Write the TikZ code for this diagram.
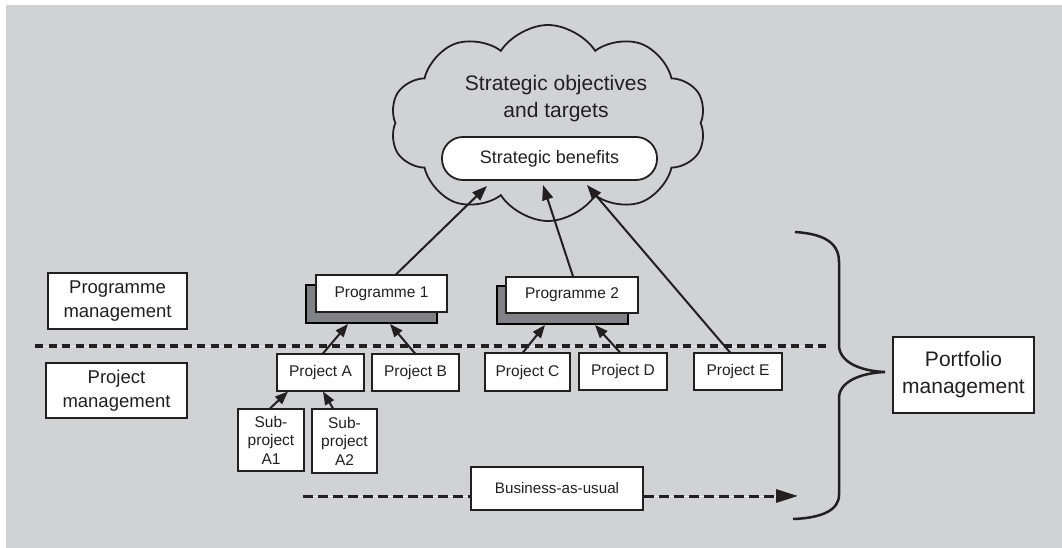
\documentclass[tikz,border=0pt]{standalone}
\usepackage{fontspec}
\setmainfont{Liberation Sans}
\usetikzlibrary{shapes.symbols,arrows.meta,calc}
\definecolor{bg}{HTML}{D1D2D4}
\definecolor{ink}{HTML}{231F20}
\definecolor{shade}{HTML}{808285}
\definecolor{gapline}{HTML}{ECECEC}
\begin{document}
\begin{tikzpicture}[x=1pt,y=-1pt,
  box/.style={draw=ink,line width=1.2pt,fill=white,text=ink,inner sep=0pt,align=center},
  shadowbox/.style={draw=black,line width=2pt,fill=shade,inner sep=0pt},
  arr/.style={draw=ink,line width=2pt,-{Triangle[length=15pt,width=11pt]}},
  sarr/.style={draw=ink,line width=2pt,-{Triangle[length=13pt,width=10pt]}},
  fA/.style={font=\fontsize{15.5}{18.5}\selectfont},
  fB/.style={font=\fontsize{18.5}{24}\selectfont},
  fC/.style={font=\fontsize{21}{27}\selectfont},
]
\useasboundingbox (0,0) rectangle (1062,548);
\fill[white] (0,0) rectangle (1062,548);
\fill[bg] (6,5) rectangle (1062,548);

% cloud
\node[cloud, cloud puffs=10, cloud puff arc=115, cloud ignores aspect, draw=ink, line width=1.8pt,
      minimum width=316pt, minimum height=196pt] (cl) at (548,123) {};
\node[fC, text=ink, align=center] (obj) at (556,99) {Strategic objectives\\and targets};
\node[box, line width=1.8pt, rounded corners=21pt, minimum width=215pt, minimum height=43pt,
      font=\fontsize{18}{21}\selectfont] (ben) at (549.5,158.5) {Strategic benefits};
\coordinate (t1) at (487,186);
\coordinate (t2) at (543,185);
\coordinate (t3) at (587,185);

% dotted separator
\coordinate (sepL) at (35,346);
\coordinate (sepR) at (826,346);
\draw[gapline, line width=1pt] (sepL) -- (sepR);
\draw[ink, line width=4.5pt, dash pattern=on 8pt off 5.5pt] (sepL) -- (sepR);

% left labels
\node[box, fB, minimum width=139pt, minimum height=56pt] (progm) at (117.5,301) {Programme\\management};
\node[box, fB, minimum width=141pt, minimum height=55pt] (projm) at (116.5,390.5) {Project\\management};

% programmes
\node[shadowbox, minimum width=131pt, minimum height=38pt] (p1s) at (371.5,304) {};
\node[box, fA, minimum width=131pt, minimum height=37pt] (p1) at (381.5,293.5) {Programme 1};
\node[shadowbox, minimum width=131pt, minimum height=38pt] (p2s) at (562.5,305) {};
\node[box, fA, minimum width=132pt, minimum height=36pt] (p2) at (572,295) {Programme 2};

% projects
\node[box, fA, minimum width=87pt, minimum height=37pt] (pA) at (320.5,372.5) {Project A};
\node[box, fA, minimum width=87pt, minimum height=37pt] (pB) at (415.5,372.5) {Project B};
\node[box, fA, minimum width=85pt, minimum height=38pt] (pC) at (527.5,372) {Project C};
\node[box, fA, minimum width=88pt, minimum height=37pt] (pD) at (623,371.5) {Project D};
\node[box, fA, minimum width=88pt, minimum height=37pt] (pE) at (738,371.5) {Project E};
\node[box, fA, minimum width=66pt, minimum height=62pt] (sA1) at (271,440) {Sub-\\project\\A1};
\node[box, fA, minimum width=65pt, minimum height=64pt] (sA2) at (344.5,441) {Sub-\\project\\A2};

% business as usual
\node[box, font=\fontsize{15.2}{18}\selectfont, minimum width=172pt, minimum height=43pt] (bau) at (557,488.5) {Business-as-usual};
\coordinate (bauL) at (303,496);
\coordinate (bauR) at (798,496);
\draw[gapline, line width=1pt] (bauL) -- (bauL -| bau.west);
\draw[ink, line width=3pt, dash pattern=on 10pt off 5pt] (bauL) -- (bauL -| bau.west);
\draw[gapline, line width=1pt] (bauL -| bau.east) -- (bauR);
\draw[ink, line width=3pt, dash pattern=on 10pt off 5pt, -{Triangle[length=22pt,width=13pt]}] (bauL -| bau.east) -- (bauR);

% portfolio
\node[box, fC, minimum width=141pt, minimum height=76pt] (pf) at (963.5,375) {Portfolio\\management};
\draw[ink, line width=2.5pt] (795,232) .. controls (826,234) and (839,244) .. (839,262)
  -- (839,345) .. controls (839,362) and (860,371) .. (885,372)
  .. controls (860,373) and (839,382) .. (839,398)
  -- (839,495) .. controls (839,510) and (822,518) .. (793,519);

% arrows to cloud
\draw[arr] ([xshift=14.5pt]p1.north) -- (t1);
\draw[arr] ([xshift=1pt]p2.north) -- (t2);
\draw[arr] ([xshift=-8pt]pE.north) -- (t3);

% arrows to programmes
\draw[sarr] ([xshift=2.5pt]pA.north) -- ([xshift=-23.5pt]p1s.south);
\draw[sarr] ([xshift=-0.5pt]pB.north) -- ([xshift=18.5pt]p1s.south);
\draw[sarr] ([xshift=-4.5pt]pC.north) -- ([xshift=-17.5pt]p2s.south);
\draw[sarr] ([xshift=-3pt]pD.north) -- ([xshift=32.5pt]p2s.south);

% arrows to project A
\draw[sarr] ([xshift=-1pt]sA1.north) -- ([xshift=-32.5pt]pA.south);
\draw[sarr] ([xshift=-11.5pt]sA2.north) -- ([xshift=2.5pt]pA.south);
\end{tikzpicture}
\end{document}
